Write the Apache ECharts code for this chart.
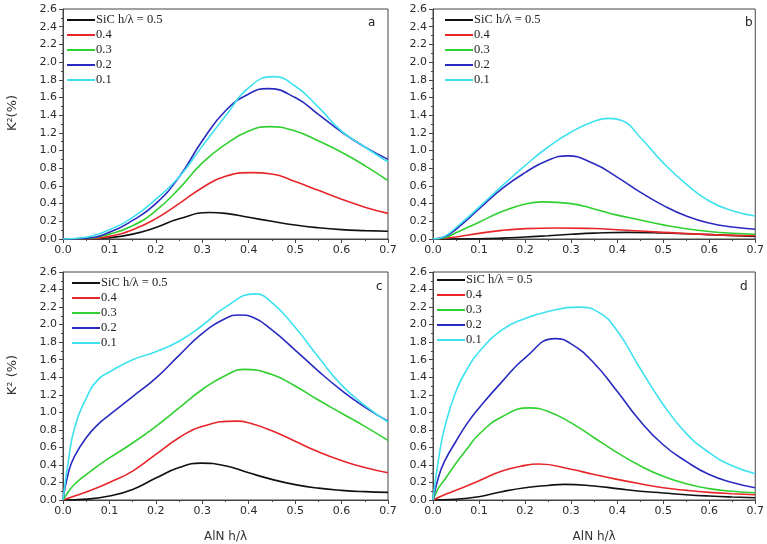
<!DOCTYPE html>
<html>
<head>
<meta charset="utf-8">
<script src="https://cdn.jsdelivr.net/npm/echarts@6/dist/echarts.min.js"></script>
<style>html,body{margin:0;padding:0;background:#fff}#c{width:767px;height:544px}</style>
</head>
<body>
<div id="c"></div>
<script>
// Each series: [AlN h/λ, K² (%)] points
const seriesNames = ['SiC h/λ = 0.5', '0.4', '0.3', '0.2', '0.1'];
const panelLabels = ['a', 'b', 'c', 'd'];
const yTitles = ['K²(%)', '', 'K² (%)', ''];
const xTitle = 'AlN h/λ';

// Panel a
const a_05 = [[0,0],[0.05,0.002],[0.1,0.015],[0.15,0.055],[0.2,0.13],[0.25,0.228],[0.316,0.30],[0.35,0.29],[0.4,0.245],[0.45,0.2],[0.5,0.158],[0.55,0.127],[0.6,0.106],[0.65,0.095],[0.7,0.087]];
const a_04 = [[0,0],[0.05,0.003],[0.1,0.03],[0.15,0.105],[0.2,0.23],[0.25,0.4],[0.3,0.58],[0.35,0.71],[0.405,0.75],[0.45,0.735],[0.5,0.65],[0.55,0.55],[0.6,0.45],[0.65,0.36],[0.7,0.29]];
const a_03 = [[0,0],[0.05,0.005],[0.1,0.055],[0.15,0.15],[0.2,0.32],[0.25,0.57],[0.3,0.86],[0.35,1.07],[0.4,1.22],[0.445,1.27],[0.5,1.22],[0.55,1.11],[0.6,0.98],[0.65,0.83],[0.7,0.66]];
const a_02 = [[0,0],[0.05,0.01],[0.1,0.075],[0.15,0.21],[0.2,0.40],[0.25,0.70],[0.3,1.11],[0.35,1.45],[0.4,1.64],[0.44,1.70],[0.5,1.60],[0.55,1.41],[0.6,1.21],[0.65,1.04],[0.7,0.90]];
const a_01 = [[0,0],[0.05,0.02],[0.1,0.105],[0.15,0.245],[0.2,0.45],[0.25,0.70],[0.3,1.05],[0.35,1.39],[0.4,1.71],[0.452,1.835],[0.5,1.73],[0.55,1.49],[0.6,1.22],[0.65,1.04],[0.7,0.87]];
// Panel b
const b_05 = [[0,0],[0.1,0.003],[0.15,0.01],[0.2,0.023],[0.25,0.037],[0.3,0.053],[0.35,0.066],[0.42,0.075],[0.5,0.068],[0.6,0.05],[0.7,0.03]];
const b_04 = [[0,0],[0.05,0.023],[0.1,0.064],[0.15,0.098],[0.2,0.117],[0.27,0.125],[0.35,0.118],[0.4,0.105],[0.5,0.075],[0.6,0.05],[0.7,0.038]];
const b_03 = [[0,0],[0.025,0.015],[0.05,0.07],[0.1,0.19],[0.15,0.31],[0.2,0.395],[0.238,0.42],[0.3,0.40],[0.35,0.34],[0.4,0.27],[0.45,0.215],[0.5,0.16],[0.55,0.115],[0.6,0.085],[0.65,0.065],[0.7,0.053]];
const b_02 = [[0,0],[0.025,0.025],[0.05,0.11],[0.1,0.34],[0.15,0.57],[0.2,0.75],[0.25,0.89],[0.292,0.94],[0.35,0.85],[0.4,0.70],[0.45,0.53],[0.5,0.38],[0.55,0.26],[0.6,0.18],[0.65,0.135],[0.7,0.11]];
const b_01 = [[0,0],[0.025,0.03],[0.05,0.13],[0.1,0.36],[0.15,0.6],[0.2,0.83],[0.25,1.04],[0.3,1.21],[0.35,1.33],[0.382,1.364],[0.41,1.34],[0.45,1.15],[0.5,0.86],[0.55,0.62],[0.6,0.43],[0.65,0.32],[0.7,0.26]];
// Panel c
const c_05 = [[0,0],[0.05,0.01],[0.1,0.045],[0.15,0.12],[0.2,0.25],[0.25,0.37],[0.297,0.42],[0.35,0.39],[0.4,0.31],[0.45,0.235],[0.5,0.175],[0.55,0.135],[0.6,0.11],[0.65,0.095],[0.7,0.087]];
const c_04 = [[0,0],[0.025,0.045],[0.05,0.09],[0.1,0.2],[0.15,0.33],[0.2,0.52],[0.25,0.71],[0.3,0.84],[0.375,0.9],[0.4,0.88],[0.45,0.79],[0.5,0.67],[0.55,0.55],[0.6,0.45],[0.65,0.37],[0.7,0.31]];
const c_03 = [[0,0],[0.0125,0.1],[0.025,0.18],[0.05,0.29],[0.075,0.39],[0.1,0.48],[0.15,0.65],[0.2,0.84],[0.25,1.05],[0.3,1.26],[0.35,1.42],[0.39,1.49],[0.45,1.43],[0.5,1.3],[0.55,1.14],[0.6,0.99],[0.65,0.84],[0.7,0.68]];
const c_02 = [[0,0],[0.0125,0.33],[0.025,0.5],[0.05,0.71],[0.075,0.86],[0.1,0.97],[0.15,1.18],[0.2,1.39],[0.25,1.65],[0.3,1.9],[0.35,2.07],[0.38,2.11],[0.41,2.08],[0.45,1.94],[0.5,1.71],[0.55,1.47],[0.6,1.25],[0.65,1.06],[0.7,0.9]];
const c_01 = [[0,0],[0.0125,0.48],[0.025,0.82],[0.05,1.16],[0.075,1.37],[0.1,1.46],[0.15,1.6],[0.2,1.69],[0.25,1.81],[0.3,1.99],[0.35,2.2],[0.413,2.35],[0.45,2.25],[0.5,1.97],[0.55,1.63],[0.6,1.31],[0.65,1.08],[0.7,0.89]];
// Panel d
const d_05 = [[0,0],[0.05,0.008],[0.1,0.038],[0.15,0.095],[0.2,0.14],[0.25,0.166],[0.285,0.178],[0.35,0.16],[0.4,0.13],[0.45,0.1],[0.5,0.08],[0.55,0.06],[0.6,0.045],[0.65,0.034],[0.7,0.026]];
const d_04 = [[0,0],[0.025,0.06],[0.05,0.11],[0.1,0.22],[0.15,0.33],[0.2,0.395],[0.23,0.41],[0.3,0.35],[0.35,0.29],[0.4,0.235],[0.45,0.185],[0.5,0.14],[0.55,0.11],[0.6,0.087],[0.65,0.072],[0.7,0.06]];
const d_03 = [[0,0],[0.0125,0.14],[0.025,0.23],[0.05,0.42],[0.075,0.59],[0.1,0.75],[0.15,0.95],[0.21,1.05],[0.25,1.01],[0.3,0.88],[0.35,0.71],[0.4,0.54],[0.45,0.39],[0.5,0.27],[0.55,0.185],[0.6,0.13],[0.65,0.1],[0.7,0.083]];
const d_02 = [[0,0],[0.0125,0.27],[0.025,0.44],[0.05,0.67],[0.075,0.88],[0.1,1.05],[0.15,1.35],[0.2,1.62],[0.265,1.84],[0.3,1.78],[0.35,1.56],[0.4,1.24],[0.45,0.9],[0.5,0.63],[0.55,0.44],[0.6,0.29],[0.65,0.2],[0.7,0.14]];
const d_01 = [[0,0],[0.0125,0.48],[0.025,0.82],[0.05,1.24],[0.075,1.5],[0.1,1.69],[0.15,1.94],[0.2,2.07],[0.25,2.15],[0.315,2.2],[0.36,2.14],[0.4,1.93],[0.45,1.5],[0.5,1.09],[0.55,0.76],[0.6,0.54],[0.65,0.39],[0.7,0.3]];

const panels = [
  [a_05, a_04, a_03, a_02, a_01],
  [b_05, b_04, b_03, b_02, b_01],
  [c_05, c_04, c_03, c_02, c_01],
  [d_05, d_04, d_03, d_02, d_01]
];

const colors = ['#111111', '#e8262a', '#2fd02f', '#2a2ac0', '#3ee2ef'];
const grids = [
  {left: 63, top: 9, width: 325, height: 230},
  {left: 433, top: 9, width: 324, height: 230},
  {left: 63, top: 272, width: 325, height: 229},
  {left: 433, top: 272, width: 324, height: 229}
];
const legendPos = [
  {left: 67, top: 13},
  {left: 445, top: 13},
  {left: 72, top: 276},
  {left: 437, top: 273}
];
const letterPos = [[368, 24], [745, 24], [376, 288], [740, 288]];

const tickFont = {fontFamily: 'DejaVu Sans', fontSize: 11, color: '#2a2a2a'};
const axisCommon = {
  axisLine: {show: true, onZero: false, lineStyle: {color: '#444', width: 1}},
  axisTick: {show: true, inside: false, length: 4, lineStyle: {color: '#444'}},
  minorTick: {show: true, splitNumber: 2, length: 2, lineStyle: {color: '#444'}},
  splitLine: {show: false},
  minorSplitLine: {show: false}
};

const option = {
  backgroundColor: '#fff',
  animation: false,
  grid: grids.map(g => Object.assign({show: true, borderColor: '#444', borderWidth: 1, backgroundColor: 'transparent'}, g)),
  xAxis: grids.map((g, i) => Object.assign({
    type: 'value', gridIndex: i, min: 0, max: 0.7, interval: 0.1,
    axisLabel: Object.assign({margin: 6, formatter: v => v.toFixed(1)}, tickFont),
    name: i >= 2 ? xTitle : '',
    nameLocation: 'middle', nameGap: 31,
    nameTextStyle: {fontFamily: 'DejaVu Sans', fontSize: 12, color: '#333'}
  }, axisCommon)),
  yAxis: grids.map((g, i) => Object.assign({
    type: 'value', gridIndex: i, min: 0, max: 2.6, interval: 0.2,
    axisLabel: Object.assign({margin: 6, formatter: v => v.toFixed(1)}, tickFont),
    name: yTitles[i],
    nameLocation: 'middle', nameGap: 44, nameRotate: 90,
    nameTextStyle: {fontFamily: 'DejaVu Sans', fontSize: 13, color: '#333', padding: [0, 0, 0, 22]}
  }, axisCommon)),
  legend: legendPos.map(p => ({
    left: p.left, top: p.top, orient: 'vertical', icon: 'rect',
    itemWidth: 28, itemHeight: 2, itemGap: 1, padding: 0,
    selectedMode: false,
    data: seriesNames,
    textStyle: {fontFamily: 'Liberation Serif', fontSize: 12.5, color: '#222', lineHeight: 14, padding: [0, 0, 0, -4]}
  })),
  graphic: letterPos.map((p, i) => ({
    type: 'text', left: p[0], top: p[1] - 7,
    style: {text: panelLabels[i], font: '12px DejaVu Sans', fill: '#222'}
  })),
  series: []
};

panels.forEach((set, pi) => {
  set.forEach((pts, si) => {
    option.series.push({
      type: 'line', name: seriesNames[si],
      xAxisIndex: pi, yAxisIndex: pi,
      data: pts,
      smooth: 0.5,
      symbol: 'none', showSymbol: false,
      lineStyle: {width: 1.6, color: colors[si]},
      itemStyle: {color: colors[si]},
      z: 2 + si
    });
  });
});

const chart = echarts.init(document.getElementById('c'), null, {renderer: 'canvas'});
chart.setOption(option);
</script>
</body>
</html>
